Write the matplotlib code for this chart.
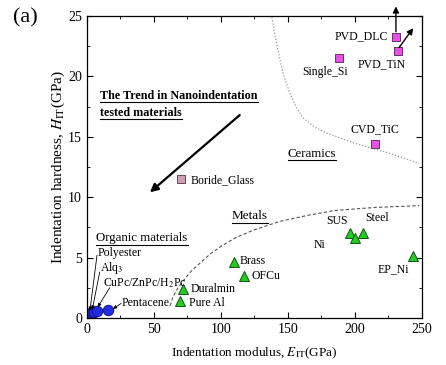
import matplotlib
matplotlib.use("Agg")
import matplotlib.pyplot as plt
from matplotlib.lines import Line2D

plt.rcParams["font.family"] = "Liberation Serif"
plt.rcParams["mathtext.fontset"] = "stix"

# ceramics (magenta squares)
ceramic_names = ["PVD_DLC", "PVD_TiN", "Single_Si", "CVD_TiC"]
ceramic_E = [230.6, 232.0, 188.0, 215.0]
ceramic_H = [23.3, 22.1, 21.5, 14.4]

glass_name = "Boride_Glass"
glass_E = [70.0]
glass_H = [11.5]

# metals (green triangles)
metal_names = ["SUS", "Ni", "Steel", "EP_Ni", "Brass", "OFCu", "Duralmin", "Pure Al"]
metal_E = [196.0, 200.0, 206.0, 243.0, 110.0, 117.0, 72.0, 69.5]
metal_H = [7.0, 6.6, 7.0, 5.1, 4.6, 3.5, 2.4, 1.4]

# organics (blue circles)
organic_E = [1.5, 3.5, 5.5, 7.5, 16.0]
organic_H = [0.3, 0.45, 0.5, 0.6, 0.65]

# guide curves
metal_curve_E = [62, 64, 68, 72, 78, 84, 92, 101, 112, 125, 144, 165, 185, 215, 248]
metal_curve_H = [1.0, 1.7, 2.5, 3.1, 3.9, 4.5, 5.3, 6.0, 6.7, 7.3, 8.0, 8.5, 8.9, 9.15, 9.3]
ceramic_curve_E = [138, 141, 144, 147, 151.5, 156, 161, 170, 179, 199, 224, 248]
ceramic_curve_H = [24.9, 23.0, 21.4, 20.0, 18.6, 17.5, 16.6, 15.8, 15.3, 14.5, 13.7, 12.8]

fig = plt.figure(figsize=(4.46, 3.65), dpi=100)
ax = fig.add_axes([0.195, 0.129, 0.751, 0.827])

ax.plot(metal_curve_E, metal_curve_H, ls=(0, (3, 2)), color="#555555", lw=0.8)
ax.plot(ceramic_curve_E, ceramic_curve_H, ls=(0, (1, 1.5)), color="#999999", lw=0.9)

ax.plot(ceramic_E, ceramic_H, "s", ms=6, mfc="#e850e8", mec="#663366", mew=0.7, ls="none")
ax.plot(glass_E, glass_H, "s", ms=6, mfc="#cfa0b4", mec="#664455", mew=0.7, ls="none")
ax.plot(metal_E, metal_H, "^", ms=7.5, mfc="#22cc22", mec="#115511", mew=0.7, ls="none")
ax.plot(organic_E, organic_H, "o", ms=7.5, mfc="#1f2fe0", mec="#10108a", mew=0.7, ls="none")

fs = 8.5
ax.text(224.6, 23.3, "PVD_DLC", fontsize=fs, ha="right", va="center")
ax.text(220, 21.0, "PVD_TiN", fontsize=fs, ha="center", va="center")
ax.text(178, 20.4, "Single_Si", fontsize=fs, ha="center", va="center")
ax.text(215, 15.6, "CVD_TiC", fontsize=fs, ha="center", va="center")
ax.text(77, 11.4, glass_name, fontsize=fs, ha="left", va="center")
ax.text(195, 8.0, "SUS", fontsize=fs, ha="right", va="center")
ax.text(208, 8.3, "Steel", fontsize=fs, ha="left", va="center")
ax.text(169, 6.0, "Ni", fontsize=fs, ha="left", va="center",
        bbox=dict(boxstyle="square,pad=0.3", fc="white", ec="none"))
ax.text(229, 4.0, "EP_Ni", fontsize=fs, ha="center", va="center")
ax.text(114, 4.7, "Brass", fontsize=fs, ha="left", va="center")
ax.text(122.5, 3.5, "OFCu", fontsize=fs, ha="left", va="center")
ax.text(77, 2.4, "Duralmin", fontsize=fs, ha="left", va="center")
ax.text(76, 1.25, "Pure Al", fontsize=fs, ha="left", va="center")

ax.text(8, 5.4, "Polyester", fontsize=fs, ha="left", va="center")
ax.text(10, 4.1, "Alq$_3$", fontsize=fs, ha="left", va="center")
ax.text(12, 2.9, "CuPc/ZnPc/H$_2$Pc", fontsize=fs, ha="left", va="center")
ax.text(26, 1.25, "Pentacene", fontsize=fs, ha="left", va="center")

thin = dict(arrowstyle="-|>", color="black", lw=0.6, mutation_scale=5, shrinkA=0, shrinkB=0)
ax.annotate("", xy=(2.2, 0.6), xytext=(7.5, 5.2), arrowprops=thin)
ax.annotate("", xy=(4.0, 0.7), xytext=(9.5, 3.8), arrowprops=thin)
ax.annotate("", xy=(8.0, 0.9), xytext=(17, 2.5), arrowprops=thin)
ax.annotate("", xy=(19.5, 0.75), xytext=(25.5, 1.2), arrowprops=thin)

bold_arrow = dict(arrowstyle="-|>", color="black", lw=1.6, mutation_scale=12, shrinkA=0, shrinkB=0)
ax.annotate("", xy=(47, 10.4), xytext=(114, 16.8), arrowprops=bold_arrow)
pvd_arrow = dict(arrowstyle="-|>", color="black", lw=1.0, mutation_scale=9, shrinkA=0, shrinkB=0)
ax.annotate("", xy=(230.6, 25.8), xytext=(230.6, 23.7), arrowprops=pvd_arrow,
            annotation_clip=False)
ax.annotate("", xy=(243.5, 24.0), xytext=(233, 22.4), arrowprops=pvd_arrow,
            annotation_clip=False)

underlined = [
    ax.text(10, 18.4, "The Trend in Nanoindentation", fontsize=8.7, fontweight="bold",
            ha="left", va="center"),
    ax.text(10, 17.0, "tested materials", fontsize=8.7, fontweight="bold",
            ha="left", va="center"),
    ax.text(150, 13.6, "Ceramics", fontsize=9.3, ha="left", va="center"),
    ax.text(108, 8.4, "Metals", fontsize=9.5, ha="left", va="center"),
    ax.text(7, 6.6, "Organic materials", fontsize=9.3, ha="left", va="center"),
]

ax.set_xlim(0, 250)
ax.set_ylim(0, 25)
ax.set_xticks([0, 50, 100, 150, 200, 250])
ax.set_xticks([25, 75, 125, 175, 225], minor=True)
ax.set_yticks([0, 5, 10, 15, 20, 25])
ax.set_yticks([2.5, 7.5, 12.5, 17.5, 22.5], minor=True)
ax.tick_params(which="both", direction="in", top=True, right=True, labelsize=10)
ax.tick_params(which="major", length=4)
ax.tick_params(which="minor", length=2)
for sp in ax.spines.values():
    sp.set_linewidth(0.9)

ax.set_xlabel(r"Indentation modulus, $E_{\rm IT}$(GPa)", fontsize=9.5, labelpad=7)
ax.set_ylabel(r"Indentation hardness, $H_{\rm IT}$(GPa)", fontsize=11, labelpad=1)

fig.text(0.03, 0.95, "(a)", fontsize=16, ha="left", va="center")

# underline the group labels
fig.canvas.draw()
renderer = fig.canvas.get_renderer()
inv = fig.transFigure.inverted()
for t in underlined:
    bb = t.get_window_extent(renderer)
    (x0, y0), (x1, _) = inv.transform([[bb.x0, bb.y0], [bb.x1, bb.y1]])
    fig.add_artist(Line2D([x0, x1], [y0 - 0.002, y0 - 0.002], transform=fig.transFigure,
                          color="black", lw=0.8))

fig.savefig("out.png", dpi=100)
